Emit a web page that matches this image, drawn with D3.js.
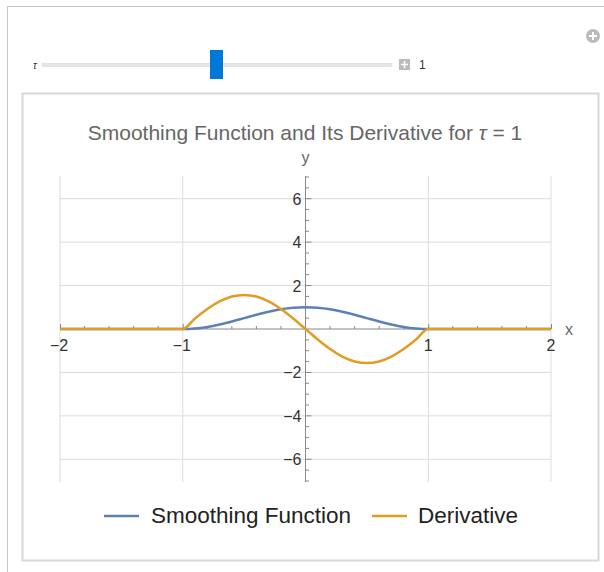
<!DOCTYPE html>
<html><head><meta charset="utf-8">
<script src="https://cdn.jsdelivr.net/npm/d3@7"></script>
<style>body{margin:0;background:#fff;font-family:"Liberation Sans",Arial,sans-serif}</style>
</head><body><svg id="c" width="604" height="572"></svg>
<script>
// data
const xs = [-2,-1,-0.9,-0.8,-0.7,-0.6,-0.5,-0.4,-0.3,-0.2,-0.1,0,0.1,0.2,0.3,0.4,0.5,0.6,0.7,0.8,0.9,1,2];
const smoothVals = [0,0,0.025,0.095,0.206,0.345,0.5,0.655,0.794,0.905,0.976,1,0.976,0.905,0.794,0.655,0.5,0.345,0.206,0.095,0.025,0,0];
const derivVals = [0,0,0.485,0.923,1.271,1.494,1.571,1.494,1.271,0.923,0.485,0,-0.485,-0.923,-1.271,-1.494,-1.571,-1.494,-1.271,-0.923,-0.485,0,0];
const xTicks = [-2,-1,1,2];
const yTicks = [-6,-4,-2,2,4,6];
const seriesNames = ["Smoothing Function","Derivative"];
const colors = ["#5e81b5","#e19c24"];

const svg = d3.select("#c");
// outer panel
svg.append("rect").attr("x",7.5).attr("y",6.5).attr("width",620).attr("height",580).attr("fill","#fff").attr("stroke","#c8c8c8");
// slider
svg.append("text").attr("x",33).attr("y",69).attr("font-size",10).attr("font-style","italic").attr("fill","#333").text("τ");
svg.append("rect").attr("x",42).attr("y",63.5).attr("width",350).attr("height",3).attr("fill","#e6e6e6").attr("stroke","#d4d4d4").attr("stroke-width",0.5);
svg.append("rect").attr("x",210).attr("y",50).attr("width",13).attr("height",29).attr("fill","#0078d7");
svg.append("rect").attr("x",399).attr("y",59).attr("width",11).attr("height",11).attr("fill","#bbb");
svg.append("path").attr("d","M404.5,61V68M401,64.5H408").attr("stroke","#fff").attr("stroke-width",1.5);
svg.append("text").attr("x",419).attr("y",69).attr("font-size",12).attr("fill","#333").text("1");
// circle plus icon
svg.append("circle").attr("cx",593).attr("cy",36).attr("r",7).attr("fill","#bbb");
svg.append("path").attr("d","M593,32V40M589,36H597").attr("stroke","#fff").attr("stroke-width",2);
// inner panel
svg.append("rect").attr("x",22.5).attr("y",93.5).attr("width",576).attr("height",467).attr("fill","#fff").attr("stroke","#d8d8d8").attr("stroke-width",2);

const x = d3.scaleLinear().domain([-2,2]).range([60,551]);
const y = d3.scaleLinear().domain([-7,7]).range([481,177]);
const yTop = 176, yBot = 482;

const grid = svg.append("g").attr("stroke","#dcdcdc").attr("stroke-width",1);
xTicks.forEach(v=>grid.append("line").attr("x1",x(v)).attr("x2",x(v)).attr("y1",yTop).attr("y2",yBot));
yTicks.forEach(v=>grid.append("line").attr("x1",x(-2)).attr("x2",x(2)).attr("y1",y(v)).attr("y2",y(v)));

// axes
const xAxis = d3.axisTop(x).tickValues(xTicks).tickSize(5).tickFormat("");
const gx = svg.append("g").attr("transform",`translate(0,${y(0)})`).call(xAxis);
gx.select(".domain").remove();
const xMinor = d3.range(-2,2.001,0.2).filter(v=>Math.abs(v-Math.round(v))>1e-6);
gx.selectAll(".minor").data(xMinor).enter().append("line").attr("x1",d=>x(d)).attr("x2",d=>x(d)).attr("y1",0).attr("y2",-3);
gx.selectAll("line").attr("stroke","#888");
svg.append("line").attr("x1",x(-2)).attr("x2",x(2)).attr("y1",y(0)).attr("y2",y(0)).attr("stroke","#888");
svg.append("line").attr("x1",x(0)).attr("x2",x(0)).attr("y1",yTop).attr("y2",yBot).attr("stroke","#888");
const yMinor = d3.range(-7,7.001,0.5).filter(v=>Math.abs(v/2-Math.round(v/2))>1e-6);
const gy = svg.append("g");
gy.selectAll(".ymaj").data(yTicks).enter().append("line").attr("x1",x(0)).attr("x2",x(0)+6).attr("y1",d=>y(d)).attr("y2",d=>y(d)).attr("stroke","#888");
gy.selectAll(".ymin").data(yMinor).enter().append("line").attr("x1",x(0)).attr("x2",x(0)+3.5).attr("y1",d=>y(d)).attr("y2",d=>y(d)).attr("stroke","#888");

const lab = svg.append("g").attr("font-size",16).attr("fill","#333");
xTicks.forEach(v=>lab.append("text").attr("x",x(v)-(v<0?1:0)).attr("y",y(0)+22).attr("text-anchor","middle").text(v<0?"\u2212"+Math.abs(v):v));
yTicks.forEach(v=>lab.append("text").attr("x",x(0)-4).attr("y",y(v)+6).attr("text-anchor","end").text(v<0?"\u2212"+Math.abs(v):v));
svg.append("text").attr("x",x(0)).attr("y",163).attr("text-anchor","middle").attr("font-size",16).attr("fill","#666").text("y");
svg.append("text").attr("x",565).attr("y",335).attr("font-size",16).attr("fill","#666").text("x");

// curves
const line = d3.line().x((d,i)=>x(xs[i])).y(d=>y(d)).curve(d3.curveMonotoneX);
svg.append("path").attr("d",line(smoothVals)).attr("fill","none").attr("stroke",colors[0]).attr("stroke-width",2.5);
svg.append("path").attr("d",line(derivVals)).attr("fill","none").attr("stroke",colors[1]).attr("stroke-width",2.5);

// title
const t = svg.append("text").attr("x",305).attr("y",140).attr("text-anchor","middle").attr("font-size",21).attr("fill","#666");
t.append("tspan").text("Smoothing Function and Its Derivative for ");
t.append("tspan").attr("font-style","italic").text("τ");
t.append("tspan").text(" = 1");

// legend
const lg = [[104,151],[372,418]];
seriesNames.forEach((n,i)=>{
  svg.append("line").attr("x1",lg[i][0]).attr("x2",lg[i][0]+35).attr("y1",516).attr("y2",516).attr("stroke",colors[i]).attr("stroke-width",2.5);
  svg.append("text").attr("x",lg[i][1]).attr("y",523).attr("font-size",22.5).attr("fill","#222").text(n);
});
</script></body></html>
